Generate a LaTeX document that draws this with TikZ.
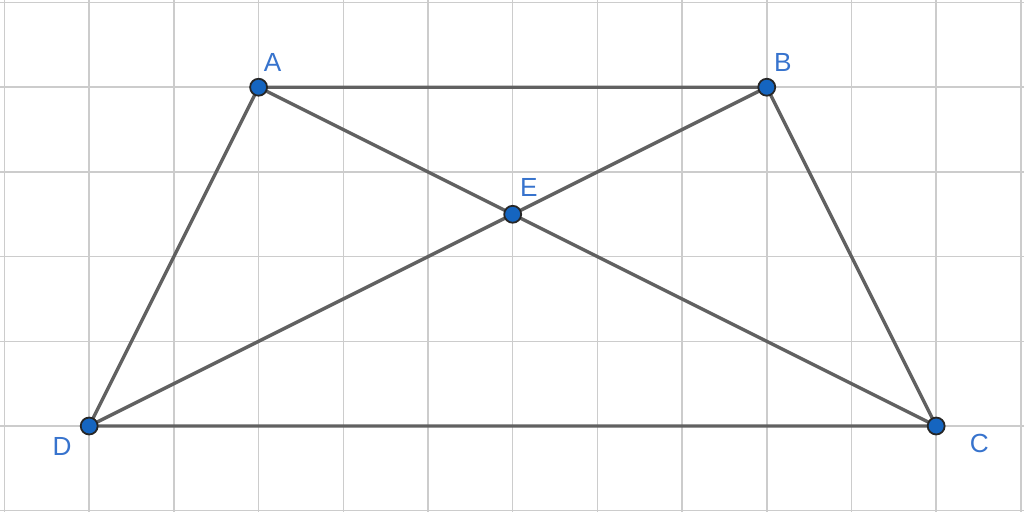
\documentclass[tikz,border=0pt]{standalone}
\usepackage{fontspec}
\setmainfont{Liberation Sans}
\definecolor{gridgray}{RGB}{204,204,204}
\definecolor{edgegray}{RGB}{97,97,97}
\definecolor{pointblue}{RGB}{21,101,192}
\definecolor{labelblue}{RGB}{55,115,205}
\begin{document}
\begin{tikzpicture}%
	[gridline/.style={color=gridgray, line width=0.5pt},
	edge/.style={color=edgegray, line width=1.15pt},
	vertex/.style={inner sep=0pt,minimum size=0.2cm,circle,draw=black!85,fill=pointblue,line width=0.6pt},
	ptlabel/.style={inner sep=0pt,text=labelblue,font=\fontsize{8.8}{10.5}\selectfont}]
\useasboundingbox (-0.053,-1.015) rectangle (12.037,5.03);
%%
%% Drawing the grid
%%
\draw[gridline] (-0.053,-1.015) grid (12.037,5.03);
%%
%% The points of the trapezoid
%%
\coordinate (A) at (3.0, 4.0);
\coordinate (B) at (9.0, 4.0);
\coordinate (C) at (11.0, 0.0);
\coordinate (D) at (1.0, 0.0);
\coordinate (E) at (6.0, 2.5);
%%
%% Drawing the sides and the diagonals
%%
\draw[edge] (A) -- (B) -- (C) -- (D) -- cycle;
\draw[edge] (A) -- (C);
\draw[edge] (B) -- (D);
%%
%% Drawing the vertices
%%
\node[vertex] (vA) at (A) {};
\node[vertex] (vB) at (B) {};
\node[vertex] (vC) at (C) {};
\node[vertex] (vD) at (D) {};
\node[vertex] (vE) at (E) {};
%%
%% Labels
%%
\node[ptlabel] (lA) at (3.165, 4.295) {A};
\node[ptlabel] (lB) at (9.19, 4.295) {B};
\node[ptlabel] (lC) at (11.51, -0.21) {C};
\node[ptlabel] (lD) at (0.68, -0.236) {D};
\node[ptlabel] (lE) at (6.19, 2.82) {E};
%%
\end{tikzpicture}
\end{document}
